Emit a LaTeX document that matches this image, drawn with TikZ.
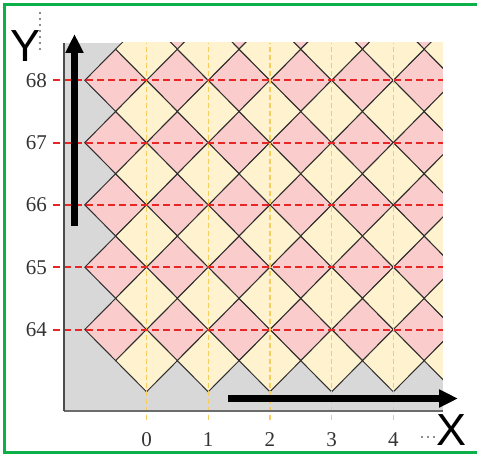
\documentclass[tikz,border=0pt]{standalone}
\usepackage{fontspec}
\setmainfont{Liberation Serif}
\newfontfamily\axisfont{Liberation Sans}
\usepackage{tikz}
\usetikzlibrary{arrows.meta}
\definecolor{cellpink}{RGB}{251,204,204}
\definecolor{cellyellow}{RGB}{255,242,206}
\definecolor{bggray}{RGB}{216,216,216}
\definecolor{rowred}{RGB}{232,38,38}
\definecolor{colyellow}{RGB}{247,204,92}
\definecolor{framegreen}{RGB}{12,176,72}
\definecolor{edge}{HTML}{2E2E2E}

\begin{document}
\begin{tikzpicture}[x=1pt, y=1pt,
  cell/.style={draw=edge, line width=1pt},
  rowline/.style={rowred, line width=2pt, dash pattern=on 7pt off 4pt},
  colline/.style={colyellow, line width=1.4pt, dash pattern=on 5pt off 3pt},
  ticklabel/.style={font=\fontsize{21}{21}\selectfont, text=black!80, inner sep=0pt},
  bigarrow/.style={line width=6.5pt, -{Triangle[length=19pt, width=17pt]}},
  axisname/.style={font=\axisfont\fontsize{45}{45}\selectfont, inner sep=0pt},
  dots/.style={black!60, line width=2.2pt, line cap=round, dash pattern=on 0pt off 6pt}]
  \useasboundingbox (0,0) rectangle (477,456);
  % green frame (right side runs off the page)
  \draw[framegreen, line width=3.5pt] (4.3,3.7) rectangle (481,451.3);
  \begin{scope}[shift={(146.5,126.5)}, x=61.7pt, y=62.3pt]
    \fill[bggray] (-1.337,-1.308) rectangle (4.805,4.599);
    \begin{scope}
      \clip (-1.337,-1.308) rectangle (4.805,4.599);
      % pink cells, centred on the rows
      \foreach \i/\top in {-1/4,0/5,1/5,2/5,3/5,4/5}
        \foreach \j in {0,...,\top}
          \filldraw[cell, fill=cellpink] (\i,\j) -- (\i+0.5,\j+0.5) -- (\i+1,\j) -- (\i+0.5,\j-0.5) -- cycle;
      % yellow cells, centred on the columns
      \foreach \i in {0,...,5}
        \foreach \j in {-1,...,4}
          \filldraw[cell, fill=cellyellow] (\i-0.5,\j+0.5) -- (\i,\j+1) -- (\i+0.5,\j+0.5) -- (\i,\j) -- cycle;
    \end{scope}
    \foreach \i in {0,...,4}
      \draw[colline] (\i,-1.45) -- (\i,4.599);
    \foreach \j in {0,...,4}
      \draw[rowline] (-1.515,\j) -- (4.805,\j);
    % axes of the box
    \draw[gray!85!black, line width=2pt] (-1.337,-1.308) -- (4.805,-1.308);
    \draw[black!70, line width=1.5pt] (-1.337,-1.308) -- (-1.337,4.599);
    \foreach \lab [count=\j from 0] in {64,...,68}
      \node[ticklabel] (ylab\lab) at (-1.783,\j) {\lab};
    \foreach \lab in {0,...,4}
      \node[ticklabel] (xlab\lab) at (\lab,-1.774) {\lab};
  \end{scope}
  % big axis arrows
  \coordinate (ytail) at (74.5,230);
  \coordinate (yhead) at (74.5,422);
  \coordinate (xtail) at (228,57.5);
  \coordinate (xhead) at (458,57.5);
  \draw[bigarrow] (ytail) -- (yhead);
  \draw[bigarrow] (xtail) -- (xhead);
  \node[axisname] (ylabel) at (26,410) {Y};
  \node[axisname] (xlabel) at (451.5,25.5) {X};
  \draw[dots] (40,443) -- (40,403);
  \draw[dots] (422,19) -- (437,19);
\end{tikzpicture}
\end{document}
